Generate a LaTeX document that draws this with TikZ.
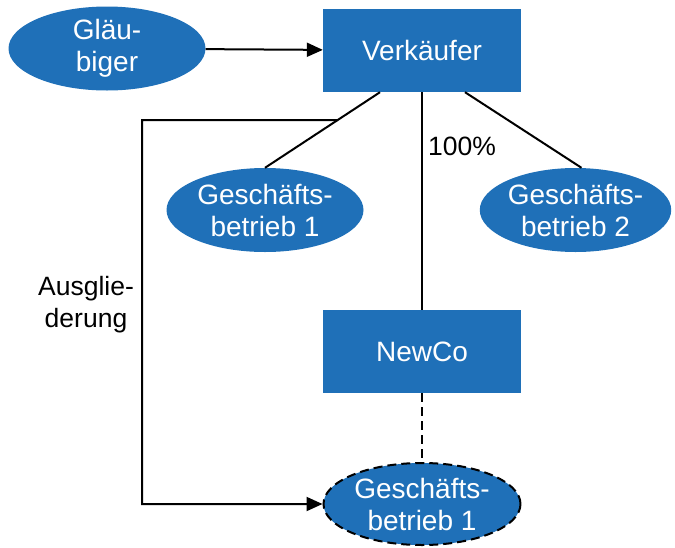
\documentclass[tikz,border=0pt]{standalone}
\usepackage{fontspec}
\setmainfont{Liberation Sans}
\usetikzlibrary{shapes.geometric,arrows.meta,calc}
\definecolor{boxblue}{RGB}{31,112,184}
\begin{document}
\begin{tikzpicture}[x=1pt,y=-1pt,
  txt/.style={font=\fontsize{28}{32}\selectfont, align=center},
  bluebox/.style={txt, rectangle, fill=boxblue, text=white, minimum width=198pt, minimum height=83pt, inner sep=0pt},
  blueell/.style={txt, ellipse, fill=boxblue, text=white, minimum width=197pt, minimum height=84pt, inner sep=0pt},
  conn/.style={line width=2pt, draw=black},
  arr/.style={conn, -{Triangle[length=16pt,width=14pt]}},
  dashpat/.style={dash pattern=on 9pt off 5pt}
]
\useasboundingbox (0,0) rectangle (675,547);
\node[blueell] (glaeu) at (107,48.5) {Gläu-\\biger};
\node[bluebox] (verk) at (422,50.5) {Verkäufer};
\node[blueell] (gb1) at (265,210) {Geschäfts-\\betrieb 1};
\node[blueell, minimum width=186pt] (gb2) at (575.5,210) {Geschäfts-\\betrieb 2};
\node[bluebox] (newco) at (422,351.5) {NewCo};
\node[blueell, draw=black, line width=2pt, dashpat, minimum width=197pt, minimum height=82pt] (gbn) at (422,504) {Geschäfts-\\betrieb 1};
\node[txt, font=\fontsize{26.5}{32}\selectfont] (pct) at (462,146) {100\%};
\node[txt, font=\fontsize{26.5}{32}\selectfont] (ausg) at (86,305) {Ausglie-\\derung};

\coordinate (vl) at ([xshift=-42pt]verk.south);
\coordinate (vr) at ([xshift=43pt]verk.south);
\coordinate (a1) at ($(vl)!0.368!(gb1.north)$);
\coordinate (corner) at (142,120);

\draw[arr] (glaeu) -- (verk);
\draw[conn] (vl) -- (gb1.north);
\draw[conn] (vr) -- ([xshift=6pt]gb2.north);
\draw[conn] (verk.south) -- (newco.north);
\draw[conn, dashpat] (newco.south) -- (gbn.north);
\draw[arr] (a1) -- (corner) |- (gbn.west);
\end{tikzpicture}
\end{document}
